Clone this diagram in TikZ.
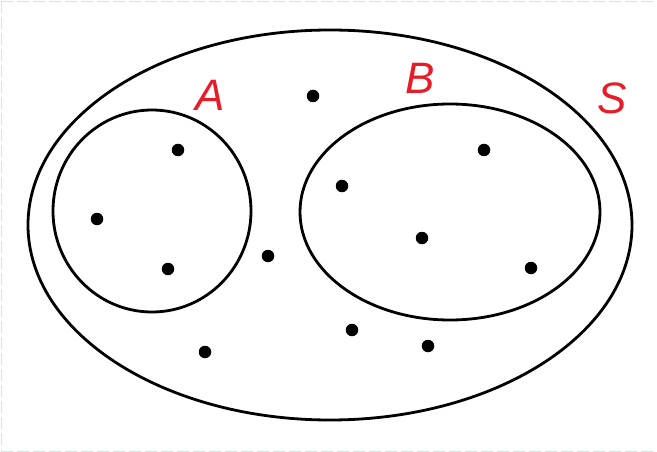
\documentclass[tikz,border=0pt]{standalone}
\usepackage{fontspec}
\setmainfont{Liberation Sans}
\definecolor{setred}{RGB}{232,28,40}
\begin{document}
\begin{tikzpicture}[x=1pt,y=-1pt,
  setline/.style={line width=2.8pt,black},
  pt/.style={circle,fill=black,inner sep=0pt,minimum size=12.5pt},
  lbl/.style={text=setred,font=\fontsize{44}{44}\selectfont\itshape,inner sep=0pt},
  frame/.style={draw=cyan!25,line width=0.8pt,dash pattern=on 12pt off 4pt}]
\useasboundingbox (0,0) rectangle (657,452);
\fill[white] (0,0) rectangle (657,452);
\draw[frame] (1,1) -- (657,1);
\draw[frame] (1,1) -- (1,451);
\draw[frame] (1,451) -- (657,451);
\draw[setline] (330,225) ellipse [x radius=302, y radius=195];
\draw[setline] (152,211) ellipse [x radius=99, y radius=101];
\draw[setline] (450,212) ellipse [x radius=150, y radius=108];
\node[lbl] (la) at (210,95) {A};
\node[lbl] (lb) at (420,78) {B};
\node[lbl] (ls) at (612,98) {S};
\node[pt] (p1) at (313,96) {};
\node[pt] (p2) at (178,150) {};
\node[pt] (p3) at (97,219) {};
\node[pt] (p4) at (168,269) {};
\node[pt] (p5) at (268,256) {};
\node[pt] (p6) at (205,352) {};
\node[pt] (p7) at (342,186) {};
\node[pt] (p8) at (484,150) {};
\node[pt] (p9) at (422,238) {};
\node[pt] (p10) at (531,268) {};
\node[pt] (p11) at (352,330) {};
\node[pt] (p12) at (428,346) {};
\end{tikzpicture}
\end{document}
